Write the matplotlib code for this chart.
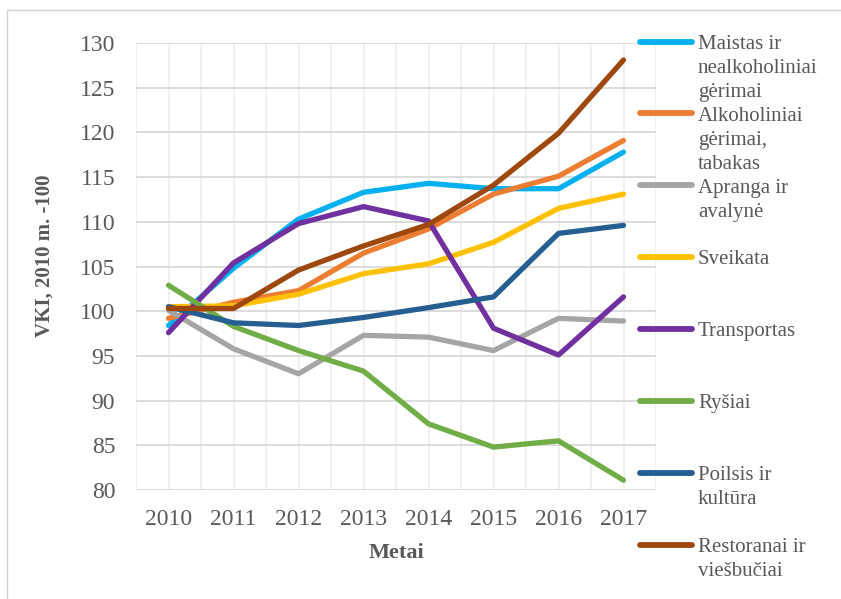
import matplotlib
matplotlib.use("Agg")
import matplotlib.pyplot as plt
from matplotlib.lines import Line2D
import numpy as np

W, H = 841, 599
years = ["2010", "2011", "2012", "2013", "2014", "2015", "2016", "2017"]

maistas = [98.4, 104.8, 110.3, 113.3, 114.3, 113.7, 113.7, 117.8]
alkoholiniai = [99.2, 101.0, 102.3, 106.5, 109.2, 113.1, 115.1, 119.1]
apranga = [100.1, 95.8, 93.0, 97.3, 97.1, 95.6, 99.2, 98.9]
sveikata = [100.5, 100.6, 101.9, 104.2, 105.3, 107.7, 111.5, 113.1]
transportas = [97.6, 105.4, 109.8, 111.7, 110.1, 98.1, 95.1, 101.6]
rysiai = [102.9, 98.3, 95.6, 93.3, 87.4, 84.8, 85.5, 81.1]
poilsis = [100.5, 98.7, 98.4, 99.3, 100.4, 101.6, 108.7, 109.6]
restoranai = [100.3, 100.3, 104.6, 107.3, 109.7, 114.1, 119.9, 128.1]

series = [
    ("Maistas ir\nnealkoholiniai\ngėrimai", maistas, "#00B0F0"),
    ("Alkoholiniai\ngėrimai,\ntabakas", alkoholiniai, "#ED7D31"),
    ("Apranga ir\navalynė", apranga, "#A5A5A5"),
    ("Sveikata", sveikata, "#FFC000"),
    ("Transportas", transportas, "#7030A0"),
    ("Ryšiai", rysiai, "#70AD47"),
    ("Poilsis ir\nkultūra", poilsis, "#255E91"),
    ("Restoranai ir\nviešbučiai", restoranai, "#9E480E"),
]

TXT = "#595959"
FONT = ["Liberation Serif", "DejaVu Serif"]
plt.rcParams["font.family"] = FONT

fig = plt.figure(figsize=(W / 100, H / 100), dpi=100)
ax = fig.add_axes([136 / W, 1 - 490 / H, (656 - 136) / W, (490 - 43) / H])

x = np.arange(len(years))
for label, vals, col in series:
    ax.plot(x, vals, color=col, lw=3.8, solid_capstyle="round",
            solid_joinstyle="round", zorder=3)

ax.set_xlim(-0.5, len(years) - 0.5)
ax.set_ylim(80, 130)
ax.set_yticks(np.arange(80, 131, 5))
ax.set_xticks(x)
ax.set_xticklabels(years)
ax.set_xticks(np.arange(-0.5, len(years), 1.0), minor=True)
ax.grid(axis="y", which="major", color="#D9D9D9", lw=1.3, zorder=1)
ax.grid(axis="x", which="both", color="#EFEFEF", lw=1.3, zorder=0)
for s in ax.spines.values():
    s.set_visible(False)
ax.tick_params(axis="both", which="both", length=0, labelsize=17, labelcolor=TXT)
ax.tick_params(axis="y", pad=15)
ax.tick_params(axis="x", pad=14)

fig.text(45 / W, 1 - 256 / H, "VKI, 2010 m. -100", rotation=90, ha="center",
         va="center", fontsize=15, fontweight="bold", color=TXT)
fig.text(396 / W, 1 - 553 / H, "Metai", ha="center", va="center",
         fontsize=16, fontweight="bold", color=TXT)

# legend
y0, dy = 41.5, 71.9
for i, (label, vals, col) in enumerate(series):
    yy = y0 + i * dy
    fig.add_artist(Line2D([640 / W, 692 / W], [1 - yy / H] * 2, color=col,
                          lw=4.2, solid_capstyle="round",
                          transform=fig.transFigure))
    for j, line in enumerate(label.split("\n")):
        fig.text(698 / W, 1 - (yy + 7.2 + j * 24.2) / H, line, ha="left",
                 va="baseline", fontsize=15, color=TXT)

# chart border (left/top visible)
fig.add_artist(Line2D([7 / W, 7 / W, 1.0], [0.0, 1 - 10 / H, 1 - 10 / H],
                      color="#D0D0D0", lw=1.0, transform=fig.transFigure))

fig.savefig("out.png", dpi=100)
